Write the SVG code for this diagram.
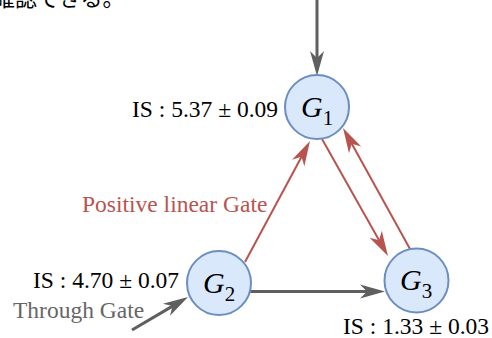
<svg xmlns="http://www.w3.org/2000/svg" width="492" height="338" viewBox="0 0 492 338">
<style>
.node{fill:#dae8fc;stroke:#6c8ebf;stroke-width:2}
.lbl{font-family:"Liberation Serif",serif;font-size:23.5px;fill:#000}
.g{font-family:"Liberation Serif",serif;font-style:italic;font-size:30px;fill:#000}
.sub{font-size:21px;font-style:normal}
.gray{stroke:#5f5f5f;stroke-width:3;fill:none}
.red{stroke:#b85450;stroke-width:2;fill:none}
</style>
<defs>
<marker id="ag" markerUnits="userSpaceOnUse" markerWidth="40" markerHeight="20" refX="0" refY="0" viewBox="-12 -10 40 20" orient="auto" overflow="visible">
<path d="M15,0 L-10,-7 L-3,0 L-10,7 Z" fill="#5f5f5f"/>
</marker>
<marker id="ar" markerUnits="userSpaceOnUse" markerWidth="40" markerHeight="20" refX="0" refY="0" viewBox="-12 -10 40 20" orient="auto" overflow="visible">
<path d="M15,0 L-10,-7 L-3,0 L-10,7 Z" fill="#b85450"/>
</marker>
</defs>
<rect width="492" height="338" fill="#fff"/>
<text x="-7" y="6" font-family="Noto Sans CJK JP,sans-serif" font-size="22" fill="#000">確認できる。</text>
<g id="connectors">
<line class="gray" x1="317" y1="0" x2="317" y2="61" marker-end="url(#ag)"/>
<line class="gray" x1="250" y1="291.5" x2="370" y2="291.5" marker-end="url(#ag)"/>
<line class="gray" x1="132" y1="330" x2="175.1" y2="304.6" marker-end="url(#ag)"/>
<line class="red" x1="245" y1="262" x2="302.9" y2="154.2" marker-end="url(#ar)"/>
<line class="red" x1="322" y1="139" x2="380.6" y2="242.9" marker-end="url(#ar)"/>
<line class="red" x1="410" y1="249" x2="350.3" y2="141.1" marker-end="url(#ar)"/>
</g>
<g id="G1">
<circle class="node" cx="317" cy="107" r="32"/>
<text class="g" x="301" y="117">G<tspan class="sub" dy="8">1</tspan></text>
</g>
<g id="G2">
<circle class="node" cx="219" cy="283" r="32"/>
<text class="g" x="203" y="293">G<tspan class="sub" dy="8">2</tspan></text>
</g>
<g id="G3">
<circle class="node" cx="416.5" cy="280.5" r="32"/>
<text class="g" x="400" y="290">G<tspan class="sub" dy="8">3</tspan></text>
</g>
<g id="labels">
<text class="lbl" x="132" y="117">IS : 5.37 ± 0.09</text>
<text class="lbl" x="82" y="212" fill="#b85450" style="fill:#b85450">Positive linear Gate</text>
<text class="lbl" x="33" y="288">IS : 4.70 ± 0.07</text>
<text class="lbl" x="13" y="318" style="fill:#666666">Through Gate</text>
<text class="lbl" x="343" y="334">IS : 1.33 ± 0.03</text>
</g>
</svg>
